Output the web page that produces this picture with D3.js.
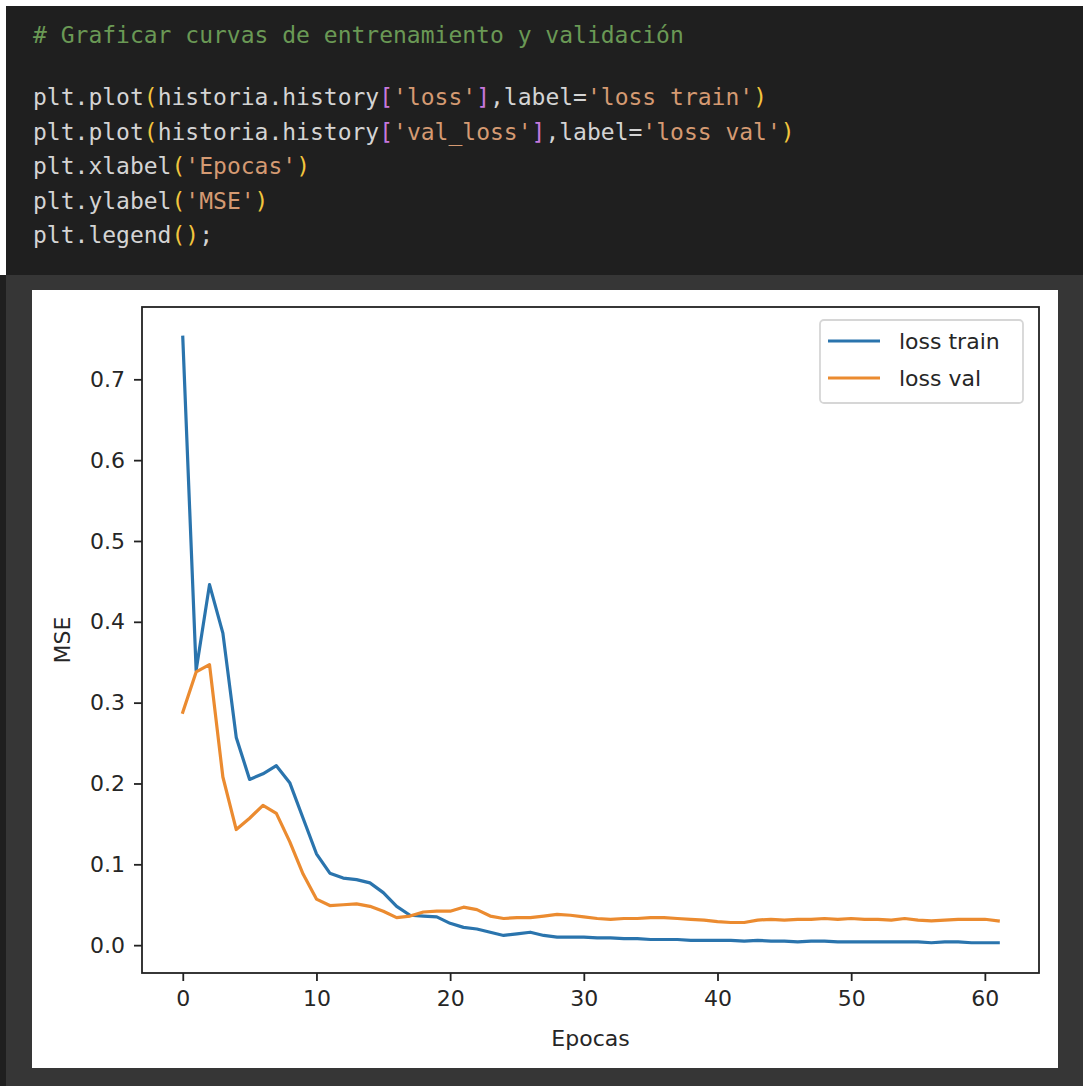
<!DOCTYPE html>
<html>
<head>
<meta charset="utf-8">
<script src="https://cdn.jsdelivr.net/npm/d3@7"></script>
<style>
  html, body { margin: 0; padding: 0; background: #ffffff; }
  svg { display: block; }
</style>
</head>
<body>
<div id="chart"></div>
<script>
// values, one per epoch
const lossTrain = [0.752, 0.340, 0.446, 0.386, 0.257, 0.205, 0.212, 0.222, 0.201, 0.157,
  0.113, 0.089, 0.083, 0.081, 0.077, 0.065, 0.048, 0.037, 0.036, 0.035,
  0.027, 0.022, 0.020, 0.016, 0.012, 0.014, 0.016, 0.012, 0.010, 0.010,
  0.010, 0.009, 0.009, 0.008, 0.008, 0.007, 0.007, 0.007, 0.006, 0.006,
  0.006, 0.006, 0.005, 0.006, 0.005, 0.005, 0.004, 0.005, 0.005, 0.004,
  0.004, 0.004, 0.004, 0.004, 0.004, 0.004, 0.003, 0.004, 0.004, 0.003,
  0.003, 0.003]
const lossVal = [0.288, 0.338, 0.347, 0.208, 0.143, 0.157, 0.173, 0.163, 0.128, 0.088,
  0.057, 0.049, 0.050, 0.051, 0.048, 0.042, 0.034, 0.036, 0.041, 0.042,
  0.042, 0.047, 0.044, 0.036, 0.033, 0.034, 0.034, 0.036, 0.038, 0.037,
  0.035, 0.033, 0.032, 0.033, 0.033, 0.034, 0.034, 0.033, 0.032, 0.031,
  0.029, 0.028, 0.028, 0.031, 0.032, 0.031, 0.032, 0.032, 0.033, 0.032,
  0.033, 0.032, 0.032, 0.031, 0.033, 0.031, 0.030, 0.031, 0.032, 0.032,
  0.032, 0.030]
const seriesLabels = ["loss train", "loss val"]
const xTicks = [0, 10, 20, 30, 40, 50, 60]
const yTicks = [0.0, 0.1, 0.2, 0.3, 0.4, 0.5, 0.6, 0.7]

// the notebook cell source, split in coloured tokens
const codeComment = "# Graficar curvas de entrenamiento y validación"
const codeLines = [
  [["plt.plot", "t"], ["(", "p"], ["historia.history", "t"], ["[", "b"], ["'loss'", "s"], ["]", "b"], [",label=", "t"], ["'loss train'", "s"], [")", "p"]],
  [["plt.plot", "t"], ["(", "p"], ["historia.history", "t"], ["[", "b"], ["'val_loss'", "s"], ["]", "b"], [",label=", "t"], ["'loss val'", "s"], [")", "p"]],
  [["plt.xlabel", "t"], ["(", "p"], ["'Epocas'", "s"], [")", "p"]],
  [["plt.ylabel", "t"], ["(", "p"], ["'MSE'", "s"], [")", "p"]],
  [["plt.legend", "t"], ["()", "p"], [";", "t"]]
]

const W = 1083, H = 1086
const tokenColor = {t: "#d4d4d4", p: "#f2c53d", b: "#c678dd", s: "#d59a72"}
const colors = ["#2a74ad", "#eb8b30"]

const svg = d3.select("#chart").append("svg")
  .attr("width", W)
  .attr("height", H)

// page pieces: code cell on top, dark output frame, white figure
svg.append("rect").attr("x", 6).attr("y", 6).attr("width", W - 6).attr("height", 269).attr("fill", "#1f1f1f")
svg.append("rect").attr("x", 0).attr("y", 275).attr("width", W).attr("height", H - 275).attr("fill", "#363636")
svg.append("rect").attr("x", 0).attr("y", 275).attr("width", 6).attr("height", H - 275).attr("fill", "#1f1f1f")
svg.append("rect").attr("x", 32).attr("y", 290).attr("width", 1026).attr("height", 778).attr("fill", "#ffffff")

const code = svg.append("g")
  .style("font-family", "'DejaVu Sans Mono', monospace")
  .style("font-size", "23px")
  .attr("xml:space", "preserve")

code.append("text")
  .attr("x", 33).attr("y", 43)
  .attr("fill", "#6a9955")
  .text(codeComment)

codeLines.forEach((tokens, i) => {
  const t = code.append("text")
    .attr("x", 33)
    .attr("y", 105 + i * 34.5)
  tokens.forEach(([txt, kind]) => {
    t.append("tspan").attr("fill", tokenColor[kind]).text(txt)
  })
})

// chart area
const margin = {left: 142, right: 1039, top: 307, bottom: 973}
const allValues = lossTrain.concat(lossVal)
const yMin = d3.min(allValues), yMax = d3.max(allValues)
const yPad = (yMax - yMin) * 0.05
const n = lossTrain.length - 1

const x = d3.scaleLinear()
  .domain([-n * 0.05, n * 1.05])
  .range([margin.left, margin.right])

const y = d3.scaleLinear()
  .domain([yMin - yPad, yMax + yPad])
  .range([margin.bottom, margin.top])

const plot = svg.append("g")
  .style("font-family", "'DejaVu Sans', sans-serif")

const line = d3.line()
  .x((d, i) => x(i))
  .y(d => y(d))

;[lossTrain, lossVal].forEach((s, i) => {
  plot.append("path")
    .datum(s)
    .attr("fill", "none")
    .attr("stroke", colors[i])
    .attr("stroke-width", 3.2)
    .attr("stroke-linejoin", "round")
    .attr("stroke-linecap", "square")
    .attr("d", line)
})

// axes
const xAxis = plot.append("g")
  .attr("transform", `translate(0,${margin.bottom})`)
  .call(d3.axisBottom(x).tickValues(xTicks).tickSize(8).tickPadding(9).tickFormat(d3.format("d")))
const yAxis = plot.append("g")
  .attr("transform", `translate(${margin.left},0)`)
  .call(d3.axisLeft(y).tickValues(yTicks).tickSize(8).tickPadding(9).tickFormat(d3.format(".1f")))

;[xAxis, yAxis].forEach(a => {
  a.select(".domain").remove()
  a.selectAll(".tick line").attr("stroke", "#222").attr("stroke-width", 1.8)
  a.selectAll(".tick text")
    .attr("fill", "#262626")
    .style("font-family", "'DejaVu Sans', sans-serif")
    .style("font-size", "22px")
})

// frame around the axes
plot.append("rect")
  .attr("x", margin.left).attr("y", margin.top)
  .attr("width", margin.right - margin.left)
  .attr("height", margin.bottom - margin.top)
  .attr("fill", "none")
  .attr("stroke", "#222")
  .attr("stroke-width", 1.8)

plot.append("text")
  .attr("x", (margin.left + margin.right) / 2)
  .attr("y", 1046)
  .attr("text-anchor", "middle")
  .attr("fill", "#262626")
  .style("font-size", "22px")
  .text("Epocas")

plot.append("text")
  .attr("transform", `translate(70,${(margin.top + margin.bottom) / 2}) rotate(-90)`)
  .attr("text-anchor", "middle")
  .attr("fill", "#262626")
  .style("font-size", "22px")
  .text("MSE")

// legend
const legend = plot.append("g")
legend.append("rect")
  .attr("x", 820).attr("y", 320)
  .attr("width", 203).attr("height", 83)
  .attr("rx", 4)
  .attr("fill", "#ffffff")
  .attr("fill-opacity", 0.8)
  .attr("stroke", "#d6d6d6")
  .attr("stroke-width", 1.8)

const entry = legend.selectAll(".entry")
  .data(seriesLabels)
  .join("g")
  .attr("class", "entry")
  .attr("transform", (d, i) => `translate(0,${341 + i * 37})`)

entry.append("line")
  .attr("x1", 828).attr("x2", 880)
  .attr("stroke", (d, i) => colors[i])
  .attr("stroke-width", 3.2)

entry.append("text")
  .attr("x", 899)
  .attr("y", 8)
  .attr("fill", "#262626")
  .style("font-size", "22px")
  .text(d => d)
</script>
</body>
</html>
